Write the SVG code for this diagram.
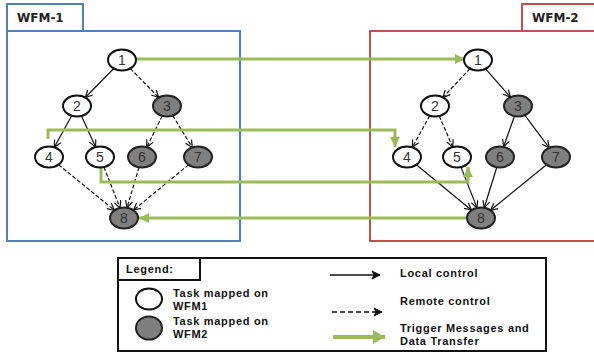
<svg xmlns="http://www.w3.org/2000/svg" width="594" height="358" viewBox="0 0 594 358">
<style>
  .nw { fill: #ffffff; stroke: #111; stroke-width: 2; }
  .ng { fill: #7f7f7f; stroke: #222; stroke-width: 2; }
  .nt { font-family: "Liberation Sans", Arial, sans-serif; font-size: 14px; text-anchor: middle; fill: #333; }
  .loc { fill: none; stroke: #111; stroke-width: 1.2; marker-end: url(#ah); }
  .rem { fill: none; stroke: #111; stroke-width: 1.2; stroke-dasharray: 4 2; marker-end: url(#ah); }
  .grn { fill: none; stroke: #9bbb59; stroke-width: 3; marker-end: url(#gh); }
  .hdr { font-family: "DejaVu Sans", Verdana, sans-serif; font-weight: bold; font-size: 12px; fill: #222; }
  .lg { font-family: "Liberation Sans", Arial, sans-serif; font-weight: bold; font-size: 11px; fill: #111; letter-spacing: 0.7px; }
</style>
<defs>
  <marker id="ah" markerWidth="10" markerHeight="10" refX="8" refY="4" orient="auto" markerUnits="userSpaceOnUse">
    <path d="M1,0.5 L8,4 L1,7.5" fill="none" stroke="#111" stroke-width="1.2"/>
  </marker>
  <marker id="gh" markerWidth="12" markerHeight="12" refX="10" refY="5" orient="auto" markerUnits="userSpaceOnUse">
    <path d="M0,0 L10,5 L0,10 z" fill="#9bbb59"/>
  </marker>
  <marker id="lah" markerWidth="12" markerHeight="12" refX="10" refY="5" orient="auto" markerUnits="userSpaceOnUse">
    <path d="M2,1 L10,5 L2,9 L4,5 z" fill="#111" stroke="#111" stroke-width="1"/>
  </marker>
  <marker id="lgh" markerWidth="14" markerHeight="14" refX="12" refY="7" orient="auto" markerUnits="userSpaceOnUse">
    <path d="M0,0 L12,7 L0,14 z" fill="#9bbb59"/>
  </marker>
</defs>

<g id="wfm1-frame">
  <rect x="7" y="31" width="233" height="210" fill="#fff" stroke="#4f81bd" stroke-width="2"/>
  <rect x="7" y="4" width="76" height="27" fill="#fff" stroke="#4f81bd" stroke-width="2"/>
  <text class="hdr" x="17" y="22">WFM-1</text>
</g>
<g id="wfm2-frame">
  <rect x="370" y="31" width="240" height="210" fill="#fff" stroke="#c0504d" stroke-width="2"/>
  <rect x="522" y="4" width="90" height="27" fill="#fff" stroke="#c0504d" stroke-width="2"/>
  <text class="hdr" x="532" y="22">WFM-2</text>
</g>

<g id="connectors">
  <path class="loc" d="M113.7,68.5 L85.3,97.5"/>
  <path class="rem" d="M130.3,68.5 L158.7,97.5"/>
  <path class="loc" d="M71.7,115.7 L54.3,147.3"/>
  <path class="loc" d="M81.5,115.9 L95.5,147.1"/>
  <path class="rem" d="M162.2,115.9 L146.8,147.1"/>
  <path class="rem" d="M172.8,115.6 L192.2,147.4"/>
  <path class="rem" d="M58.5,164.7 L114.5,210.3"/>
  <path class="rem" d="M104,167.1 L120,207.9"/>
  <path class="rem" d="M139,167.3 L127,207.7"/>
  <path class="rem" d="M188.6,164.8 L133.4,210.2"/>
  <path class="rem" d="M470,68.6 L443,97.4"/>
  <path class="loc" d="M485.6,68.8 L510.4,97.2"/>
  <path class="rem" d="M429.7,115.7 L412.3,147.3"/>
  <path class="rem" d="M439.3,116 L452.7,147"/>
  <path class="loc" d="M514.4,116.2 L503.6,146.8"/>
  <path class="loc" d="M524.8,115.2 L549.2,147.8"/>
  <path class="loc" d="M416.4,164.8 L471.6,210.2"/>
  <path class="loc" d="M461,167.1 L477,207.9"/>
  <path class="loc" d="M496.8,167.2 L484.2,207.8"/>
  <path class="loc" d="M546.5,164.7 L490.5,210.3"/>
  <path class="grn" d="M137,59 H465"/>
  <path class="grn" d="M48,139 V130 H395 V147"/>
  <path class="grn" d="M101,168 V182 H468 V167"/>
  <path class="grn" d="M467,218 H139"/>
</g>

<g id="w1-n1"><ellipse class="nw" cx="122" cy="60" rx="14" ry="10.5"/><text class="nt" x="122" y="65">1</text></g>
<g id="w1-n2"><ellipse class="nw" cx="77" cy="106" rx="14" ry="10.5"/><text class="nt" x="77" y="111">2</text></g>
<g id="w1-n3"><ellipse class="ng" cx="167" cy="106" rx="14" ry="10.5"/><text class="nt" x="167" y="111">3</text></g>
<g id="w1-n4"><ellipse class="nw" cx="49" cy="157" rx="14" ry="10.5"/><text class="nt" x="49" y="162">4</text></g>
<g id="w1-n5"><ellipse class="nw" cx="100" cy="157" rx="14" ry="10.5"/><text class="nt" x="100" y="162">5</text></g>
<g id="w1-n6"><ellipse class="ng" cx="142" cy="157" rx="14" ry="10.5"/><text class="nt" x="142" y="162">6</text></g>
<g id="w1-n7"><ellipse class="ng" cx="198" cy="157" rx="14" ry="10.5"/><text class="nt" x="198" y="162">7</text></g>
<g id="w1-n8"><ellipse class="ng" cx="124" cy="218" rx="14" ry="10.5"/><text class="nt" x="124" y="223">8</text></g>

<g id="w2-n1"><ellipse class="nw" cx="478" cy="60" rx="14" ry="10.5"/><text class="nt" x="478" y="65">1</text></g>
<g id="w2-n2"><ellipse class="nw" cx="435" cy="106" rx="14" ry="10.5"/><text class="nt" x="435" y="111">2</text></g>
<g id="w2-n3"><ellipse class="ng" cx="518" cy="106" rx="14" ry="10.5"/><text class="nt" x="518" y="111">3</text></g>
<g id="w2-n4"><ellipse class="nw" cx="407" cy="157" rx="14" ry="10.5"/><text class="nt" x="407" y="162">4</text></g>
<g id="w2-n5"><ellipse class="nw" cx="457" cy="157" rx="14" ry="10.5"/><text class="nt" x="457" y="162">5</text></g>
<g id="w2-n6"><ellipse class="ng" cx="500" cy="157" rx="14" ry="10.5"/><text class="nt" x="500" y="162">6</text></g>
<g id="w2-n7"><ellipse class="ng" cx="556" cy="157" rx="14" ry="10.5"/><text class="nt" x="556" y="162">7</text></g>
<g id="w2-n8"><ellipse class="ng" cx="481" cy="218" rx="14" ry="10.5"/><text class="nt" x="481" y="223">8</text></g>

<g id="legend">
  <rect x="118" y="258" width="428" height="93" fill="#fff" stroke="#111" stroke-width="2"/>
  <rect x="118" y="258" width="82" height="22" fill="#fff" stroke="#111" stroke-width="2"/>
  <text class="lg" x="126" y="273">Legend:</text>
  <ellipse cx="149" cy="299" rx="13" ry="10.5" fill="#fff" stroke="#111" stroke-width="2"/>
  <ellipse cx="149" cy="328" rx="13" ry="11.5" fill="#7f7f7f" stroke="#222" stroke-width="2"/>
  <text class="lg" x="173" y="297">Task mapped on</text>
  <text class="lg" x="173" y="310">WFM1</text>
  <text class="lg" x="173" y="325">Task mapped on</text>
  <text class="lg" x="173" y="338">WFM2</text>
  <path d="M330,275 H380" stroke="#111" stroke-width="1.5" fill="none" marker-end="url(#lah)"/>
  <path d="M332,312 H382" stroke="#111" stroke-width="1.5" stroke-dasharray="5 3" fill="none" marker-end="url(#lah)"/>
  <path d="M333,337 H385" stroke="#9bbb59" stroke-width="4" fill="none" marker-end="url(#lgh)"/>
  <text class="lg" x="400" y="277">Local control</text>
  <text class="lg" x="400" y="305">Remote control</text>
  <text class="lg" x="400" y="332">Trigger Messages and</text>
  <text class="lg" x="400" y="345">Data Transfer</text>
</g>
</svg>
